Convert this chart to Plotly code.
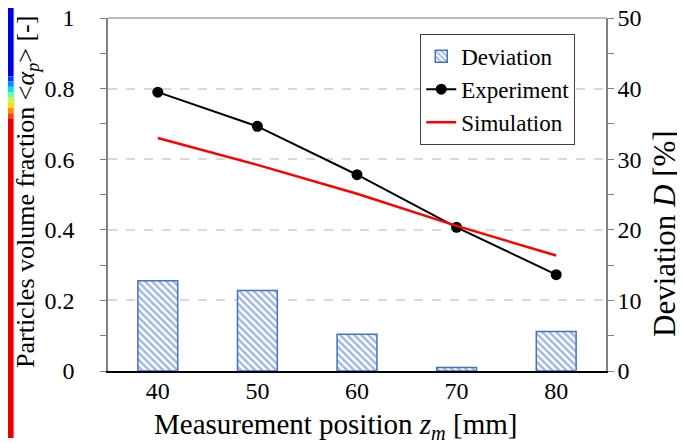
import plotly.graph_objects as go

positions = ["40", "50", "60", "70", "80"]
experiment = [0.790, 0.693, 0.556, 0.407, 0.273]
simulation = [0.660, 0.584, 0.502, 0.411, 0.327]
deviation = [12.8, 11.4, 5.2, 0.5, 5.6]

FONT = "Liberation Serif"
TICKFONT = "Times New Roman"
BLUE = "#4472C4"
def F(size, fam=FONT):
    return dict(family=fam, size=size, color="black")

fig = go.Figure()
fig.add_trace(go.Bar(
    x=positions, y=deviation, name="Deviation", yaxis="y2", width=0.4,
    marker=dict(color="white", line=dict(color=BLUE, width=1.5),
                pattern=dict(shape="\\", fgcolor=BLUE, bgcolor="white", size=5, solidity=0.5)),
))
fig.add_trace(go.Scatter(
    x=positions, y=experiment, name="Experiment", mode="lines+markers",
    line=dict(color="black", width=2), marker=dict(color="black", size=11),
))
fig.add_trace(go.Scatter(
    x=positions, y=simulation, name="Simulation", mode="lines",
    line=dict(color="#FF0000", width=2.5),
))

# decorative colour strip on the far left (cropped from original figure)
strip = [
    (1.03, 0.835, "#0000E0"),
    (0.835, 0.82, "#0040FF"),
    (0.82, 0.805, "#0090FF"),
    (0.805, 0.79, "#00E0FF"),
    (0.79, 0.775, "#60FFA0"),
    (0.775, 0.76, "#C0FF40"),
    (0.76, 0.745, "#FFE000"),
    (0.745, 0.73, "#FF9000"),
    (0.73, 0.715, "#FF4000"),
    (0.715, -0.19, "#E80000"),
]
shapes = []
for y1, y0, c in strip:
    shapes.append(dict(type="rect", xref="paper", yref="paper", x0=-100/498, x1=-94/498,
                       y0=y0, y1=y1, fillcolor=c, line=dict(width=0), layer="above"))
shapes.append(dict(type="line", xref="paper", yref="paper", x0=-94/498, x1=-94/498,
                   y0=-0.19, y1=1.03, line=dict(color="#D8D8D8", width=1)))
shapes.append(dict(type="line", xref="paper", yref="paper", x0=0, x1=1, y0=1, y1=1,
                   line=dict(color="#A6A6A6", width=1.5)))

annotations = [
    dict(text="Measurement position <i>z<sub>m</sub></i> [mm]", xref="paper", yref="paper",
         x=(327-100)/498, y=(363-418)/353, xanchor="center", yanchor="middle",
         showarrow=False, font=F(29)),
    dict(text="Particles volume fraction &lt;<i>α<sub>p</sub></i>&gt; [-]", xref="paper", yref="paper",
         x=(19-100)/498, y=(363-184)/353, xanchor="center", yanchor="middle",
         textangle=-90, showarrow=False, font=F(26)),
    dict(text="Deviation <i>D</i> [%]", xref="paper", yref="paper",
         x=(657-100)/498, y=(363-226)/353, xanchor="center", yanchor="middle",
         textangle=-90, showarrow=False, font=F(31)),
]

fig.update_layout(
    width=685, height=443,
    margin=dict(l=100, r=87, t=10, b=80, autoexpand=False),
    paper_bgcolor="white", plot_bgcolor="white",
    font=F(24),
    showlegend=True,
    legend=dict(x=0.627, y=0.955, xanchor="left", yanchor="top",
                bordercolor="#404040", borderwidth=1, bgcolor="white",
                font=F(23), itemwidth=30, tracegroupgap=0),
    xaxis=dict(type="category", range=[-0.5, 4.5], showline=True, linecolor="black", linewidth=1.5,
               ticks="", showgrid=False, tickfont=F(24, TICKFONT), ticklabelstandoff=-3, automargin=False),
    yaxis=dict(range=[0, 1], dtick=0.2, tickformat="~g", showline=True, linecolor="#808080", linewidth=1.5,
               ticks="outside", ticklen=6, tickcolor="#808080", ticklabeloverflow="allow",
               ticklabelstandoff=21, automargin=False,
               minor=dict(dtick=0.1, ticks="outside", ticklen=6, tickcolor="#808080", showgrid=False),
               showgrid=True, gridcolor="#D9D9D9", griddash="dash", gridwidth=1.5,
               zeroline=False, tickfont=F(24, TICKFONT)),
    yaxis2=dict(range=[0, 50], dtick=10, overlaying="y", side="right", showline=True,
                linecolor="#808080", linewidth=1.5, ticks="outside", ticklen=6, tickcolor="#808080",
                ticklabeloverflow="allow", ticklabelstandoff=-1, automargin=False,
                minor=dict(dtick=5, ticks="outside", ticklen=6, tickcolor="#808080", showgrid=False),
                showgrid=False, zeroline=False, tickfont=F(24, TICKFONT)),
    shapes=shapes,
    annotations=annotations,
)

fig.write_html("out.html")
